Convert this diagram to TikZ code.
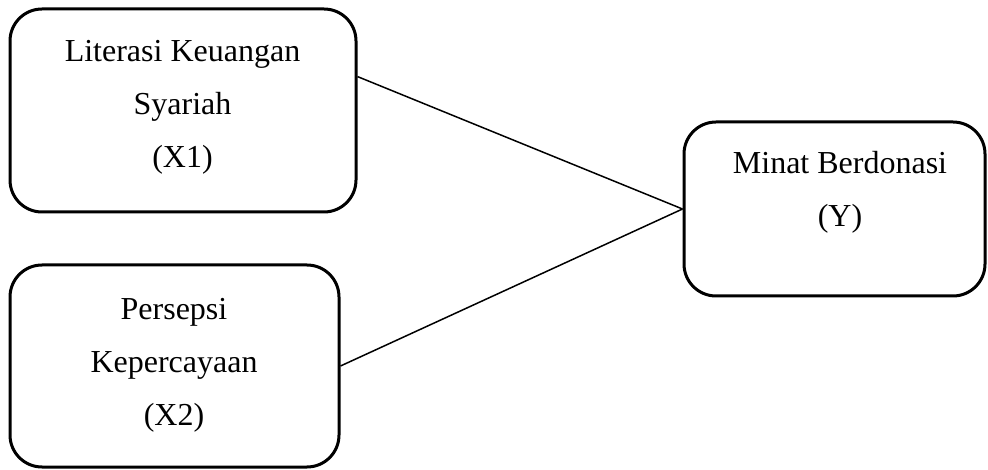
\documentclass[tikz,border=0pt]{standalone}
\usepackage{fontspec}
\setmainfont{Liberation Serif}
\tikzset{
    every node/.style={inner sep=0mm},
    varbox/.style={rectangle, rounded corners=32pt, draw, line width=3pt},
    vartext/.style={align=center, font=\fontsize{32}{53}\selectfont}
}

\begin{document}
\begin{tikzpicture}[x=1pt, y=-1pt]
    \useasboundingbox (0,0) rectangle (988,470);

    \node (x1) [varbox, minimum width=346pt, minimum height=203pt] at (183, 110.5) {};
    \node (x2) [varbox, minimum width=329pt, minimum height=202pt] at (174.5, 366) {};
    \node (y) [varbox, minimum width=301pt, minimum height=174pt] at (834.5, 209) {};

    \node (x1t) [vartext] at (182.5, 107) {Literasi Keuangan\\Syariah\\(X1)};
    \node (x2t) [vartext] at (174, 365.5) {Persepsi\\Kepercayaan\\(X2)};
    \node (yt) [vartext] at (840, 192) {Minat Berdonasi\\(Y)};

    \draw [line width=1.5pt] (x1.11) edge (y.west);
    \draw [line width=1.5pt] (x2.east) edge (y.west);
\end{tikzpicture}
\end{document}
